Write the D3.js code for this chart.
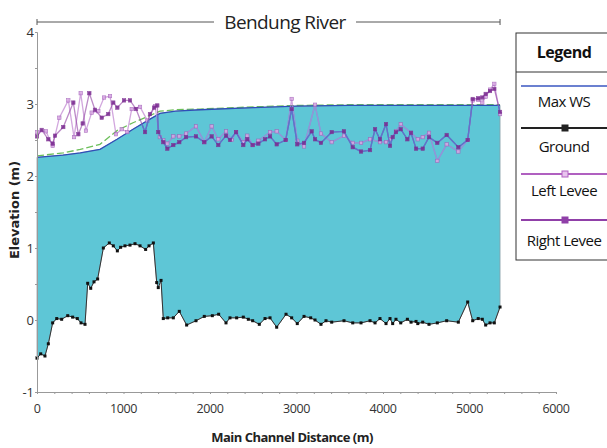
<!DOCTYPE html>
<html>
<head>
<meta charset="utf-8">
<script src="https://cdn.jsdelivr.net/npm/d3@7"></script>
<style>
  body { margin: 0; background: #fff; }
  svg { display: block; font-family: "Open Sans", sans-serif; }
</style>
</head>
<body>
<div id="chart"></div>
<script>
// Ground profile (main channel distance m, elevation m)
const groundDist = [0, 43, 92, 131, 181, 228, 285, 355, 412, 466, 509, 555, 586, 621, 659, 701, 767, 836, 882, 929, 967, 1017, 1075, 1133, 1191, 1256, 1295, 1345, 1384, 1402, 1434, 1460, 1511, 1576, 1645, 1730, 1838, 1934, 2027, 2100, 2185, 2231, 2308, 2385, 2443, 2493, 2570, 2636, 2694, 2771, 2879, 2944, 3009, 3087, 3164, 3214, 3283, 3341, 3407, 3549, 3650, 3746, 3850, 3908, 3965, 4035, 4081, 4112, 4150, 4205, 4282, 4324, 4382, 4402, 4459, 4532, 4628, 4736, 4871, 4979, 5037, 5101, 5148, 5187, 5237, 5287, 5353];
const groundElev = [-0.53, -0.47, -0.50, -0.33, -0.04, 0.02, 0.01, 0.06, 0.04, 0.02, -0.04, -0.06, 0.51, 0.44, 0.53, 0.57, 1.00, 1.07, 1.03, 0.96, 1.01, 1.03, 1.04, 1.06, 1.03, 0.98, 1.03, 1.07, 0.52, 0.45, 0.55, 0.02, 0.03, 0.03, 0.12, -0.07, -0.01, 0.05, 0.06, 0.08, -0.04, 0.03, 0.03, 0.04, 0.01, -0.01, -0.06, 0.02, 0.03, -0.10, 0.08, 0.03, -0.05, 0.05, 0.03, 0.00, -0.06, -0.01, -0.03, -0.01, -0.04, -0.04, -0.01, -0.04, 0.02, -0.05, 0.02, -0.05, 0.01, -0.04, 0.01, -0.03, -0.02, -0.05, -0.03, -0.06, -0.04, -0.01, -0.03, 0.25, -0.01, 0.02, 0.01, -0.07, -0.04, -0.04, 0.18];

// Max water surface
const wsDist = [0, 300, 500, 728, 925, 1110, 1306, 1422, 1600, 1884, 2500, 3000, 3600, 4500, 5353];
const wsElev = [2.26, 2.29, 2.32, 2.37, 2.51, 2.65, 2.79, 2.87, 2.90, 2.92, 2.95, 2.97, 2.98, 2.98, 2.98];

// Dashed green line (above max WS)
const egDist = [0, 300, 500, 728, 925, 1110, 1306, 1422, 1600, 1884, 2500, 3000, 3600, 4500, 5353];
const egElev = [2.28, 2.32, 2.37, 2.44, 2.63, 2.74, 2.84, 2.90, 2.92, 2.93, 2.96, 2.98, 2.99, 2.99, 2.99];

// Left levee
const leftDist = [4, 104, 181, 258, 362, 428, 505, 566, 632, 709, 775, 844, 913, 979, 1044, 1095, 1191, 1276, 1364, 1420, 1460, 1507, 1576, 1645, 1723, 1838, 1934, 2019, 2096, 2185, 2250, 2301, 2385, 2431, 2493, 2559, 2694, 2771, 2875, 2944, 3009, 3087, 3214, 3283, 3407, 3549, 3650, 3746, 3850, 3965, 4035, 4081, 4150, 4205, 4324, 4402, 4459, 4532, 4628, 4736, 4871, 4979, 5037, 5101, 5148, 5187, 5237, 5287, 5353];
const leftElev = [2.61, 2.62, 2.42, 2.81, 3.05, 2.54, 3.15, 2.63, 2.88, 2.90, 3.09, 3.11, 2.58, 2.65, 2.61, 2.93, 2.96, 2.77, 2.97, 2.54, 2.50, 2.45, 2.55, 2.55, 2.59, 2.69, 2.47, 2.69, 2.51, 2.62, 2.50, 2.61, 2.47, 2.56, 2.43, 2.49, 2.61, 2.62, 2.50, 3.07, 2.49, 2.41, 2.99, 2.59, 2.47, 2.56, 2.46, 2.46, 2.51, 2.47, 2.47, 2.51, 2.62, 2.72, 2.60, 2.51, 2.54, 2.60, 2.21, 2.44, 2.34, 2.50, 3.05, 3.06, 3.02, 3.10, 3.20, 3.28, 2.86];

// Right levee
const rightDist = [0, 54, 131, 181, 208, 304, 420, 478, 528, 605, 670, 748, 824, 882, 929, 1006, 1075, 1145, 1249, 1306, 1353, 1391, 1402, 1460, 1507, 1576, 1645, 1723, 1838, 1934, 2019, 2096, 2185, 2231, 2301, 2385, 2431, 2493, 2559, 2636, 2694, 2771, 2875, 2944, 3009, 3087, 3175, 3214, 3283, 3407, 3549, 3650, 3746, 3850, 3908, 3965, 4035, 4081, 4112, 4150, 4205, 4282, 4324, 4382, 4459, 4532, 4628, 4736, 4871, 4979, 5037, 5101, 5148, 5187, 5237, 5287, 5353];
const rightElev = [2.55, 2.64, 2.51, 2.45, 2.56, 2.68, 3.02, 2.58, 2.73, 3.15, 2.92, 2.81, 2.86, 3.02, 2.95, 3.05, 3.05, 2.93, 2.61, 2.86, 2.95, 2.98, 2.61, 2.47, 2.38, 2.43, 2.47, 2.54, 2.55, 2.47, 2.55, 2.43, 2.56, 2.50, 2.61, 2.43, 2.51, 2.43, 2.45, 2.51, 2.55, 2.44, 2.50, 2.93, 2.44, 2.46, 2.62, 2.51, 2.46, 2.61, 2.62, 2.40, 2.34, 2.36, 2.65, 2.51, 2.72, 2.42, 2.54, 2.61, 2.65, 2.51, 2.60, 2.38, 2.38, 2.54, 2.46, 2.57, 2.40, 2.50, 3.07, 3.08, 3.09, 3.14, 3.18, 3.21, 2.89];

const xTicks = [0, 1000, 2000, 3000, 4000, 5000, 6000];
const yTicks = [-1, 0, 1, 2, 3, 4];
const legendItems = ["Max WS", "Ground", "Left Levee", "Right Levee"];

const width = 607, height = 448;
const x = d3.scaleLinear().domain([0, 6000]).range([37, 556]);
const y = d3.scaleLinear().domain([-1, 4]).range([392, 32]);

const zip = (ds, es) => ds.map((d, i) => ({d, e: es[i]}));
const ground = zip(groundDist, groundElev);
const ws = zip(wsDist, wsElev);
const eg = zip(egDist, egElev);
const left = zip(leftDist, leftElev);
const right = zip(rightDist, rightElev);

const line = d3.line().x(p => x(p.d)).y(p => y(p.e));

const svg = d3.select("#chart").append("svg")
    .attr("width", width).attr("height", height)
    .attr("viewBox", [0, 0, width, height]);

// water fill between max WS and ground
const waterPath = line(ws.concat(ground.slice().reverse())) + "Z";
svg.append("clipPath").attr("id", "water").append("path").attr("d", waterPath);
svg.append("path")
    .attr("d", waterPath)
    .attr("fill", "#5ec6d6")
    .attr("stroke", "#8aa0a8")
    .attr("stroke-width", 0.8);

// ground
svg.append("path").attr("d", line(ground)).attr("fill", "none").attr("stroke", "#333").attr("stroke-width", 1);
svg.append("g").selectAll("rect").data(ground).join("rect")
    .attr("x", p => x(p.d) - 1.5).attr("y", p => y(p.e) - 1.5)
    .attr("width", 3).attr("height", 3).attr("fill", "#111");

// dashed green + WS
svg.append("path").attr("d", line(eg)).attr("fill", "none")
    .attr("stroke", "#6cbf5a").attr("stroke-width", 1.3).attr("stroke-dasharray", "7,3");
svg.append("path").attr("d", line(ws)).attr("fill", "none")
    .attr("stroke", "#2e4fb8").attr("stroke-width", 1.3);

// levees: lilac over white, bluish where under water
function levee(data, color, wetColor, mFill, mStroke) {
    svg.append("path").attr("d", line(data)).attr("fill", "none")
        .attr("stroke", color).attr("stroke-width", 1.3).attr("stroke-opacity", 0.6);
    svg.append("path").attr("d", line(data)).attr("fill", "none").attr("clip-path", "url(#water)")
        .attr("stroke", wetColor).attr("stroke-width", 1.3);
    svg.append("g").selectAll("rect").data(data).join("rect")
        .attr("x", p => x(p.d) - 1.7).attr("y", p => y(p.e) - 1.7)
        .attr("width", 3.4).attr("height", 3.4)
        .attr("fill", mFill).attr("stroke", mStroke).attr("stroke-width", 0.6).attr("opacity", 0.85);
}
levee(left, "#b46cc8", "#8f96da", "#d8a8e2", "#a05cb8");
levee(right, "#8e3ca0", "#5c74cc", "#7a2a90", "#7a2a90");

// axes
const xAxis = svg.append("g").attr("transform", `translate(0,${y(-1)})`)
    .call(d3.axisBottom(x).tickValues(d3.range(0, 6001, 200)).tickSize(2).tickFormat(""));
xAxis.selectAll("line, path").attr("stroke", "#999");
svg.append("g").selectAll("text").data(xTicks).join("text")
    .attr("x", d => x(d)).attr("y", 413)
    .attr("text-anchor", "middle").attr("font-size", 12.5).attr("letter-spacing", -0.4).attr("fill", "#333")
    .text(d => d);

const yAxis = svg.append("g").attr("transform", `translate(${x(0)},0)`)
    .call(d3.axisLeft(y).tickValues(d3.range(-1, 4.01, 0.5)).tickSize(2).tickFormat(""));
yAxis.selectAll("line, path").attr("stroke", "#999");
svg.append("g").selectAll("text").data(yTicks).join("text")
    .attr("x", 34).attr("y", d => y(d) + 5)
    .attr("text-anchor", "end").attr("font-size", 13).attr("fill", "#333")
    .text(d => d);

// title bar
const ty = 22;
svg.append("line").attr("x1", x(0)).attr("x2", x(5353)).attr("y1", ty).attr("y2", ty).attr("stroke", "#555");
svg.append("line").attr("x1", x(0)).attr("x2", x(0)).attr("y1", ty - 3).attr("y2", ty + 3).attr("stroke", "#555");
svg.append("line").attr("x1", x(5353)).attr("x2", x(5353)).attr("y1", ty - 3).attr("y2", ty + 3).attr("stroke", "#555");
svg.append("rect").attr("x", 214).attr("y", 8).attr("width", 142).attr("height", 28).attr("fill", "#fff");
svg.append("text").attr("x", 285).attr("y", ty + 7).attr("text-anchor", "middle")
    .attr("font-size", 19).attr("letter-spacing", -0.6).attr("fill", "#222").text("Bendung River");

// axis titles
svg.append("text").attr("x", 292).attr("y", 442).attr("text-anchor", "middle")
    .attr("font-size", 13).attr("letter-spacing", -0.5).attr("font-weight", "bold").attr("fill", "#222")
    .text("Main Channel Distance (m)");
svg.append("text").attr("transform", "translate(19,210) rotate(-90)")
    .attr("text-anchor", "middle").attr("font-family", "DejaVu Sans")
    .attr("font-size", 13).attr("font-weight", "bold").attr("fill", "#222")
    .text("Elevation (m)");

// legend
const lg = svg.append("g");
lg.append("rect").attr("x", 516).attr("y", 33).attr("width", 100).attr("height", 227)
    .attr("fill", "#fff").attr("stroke", "#333").attr("stroke-width", 1);
lg.append("line").attr("x1", 516).attr("x2", 607).attr("y1", 72).attr("y2", 72).attr("stroke", "#333");
lg.append("text").attr("x", 564).attr("y", 58).attr("text-anchor", "middle")
    .attr("font-size", 16).attr("letter-spacing", -0.5).attr("font-weight", "bold").attr("fill", "#111").text("Legend");
const lineYs = [86, 128, 174, 220];
const textYs = [107, 152, 196, 246];
const lColors = ["#3a56c0", "#222", "#b060c0", "#9040a8"];
legendItems.forEach((name, i) => {
    lg.append("line").attr("x1", 521).attr("x2", 607).attr("y1", lineYs[i]).attr("y2", lineYs[i])
        .attr("stroke", lColors[i]).attr("stroke-width", i === 0 ? 1.3 : 2);
    if (i > 0) {
        lg.append("rect").attr("x", 562).attr("y", lineYs[i] - 3).attr("width", 6).attr("height", 6)
            .attr("fill", i === 2 ? "#e8c4ee" : lColors[i]).attr("stroke", lColors[i]).attr("stroke-width", 1);
    }
    lg.append("text").attr("x", 564).attr("y", textYs[i]).attr("text-anchor", "middle")
        .attr("font-size", 15).attr("letter-spacing", -0.5).attr("fill", "#111").text(name);
});
</script>
</body>
</html>
